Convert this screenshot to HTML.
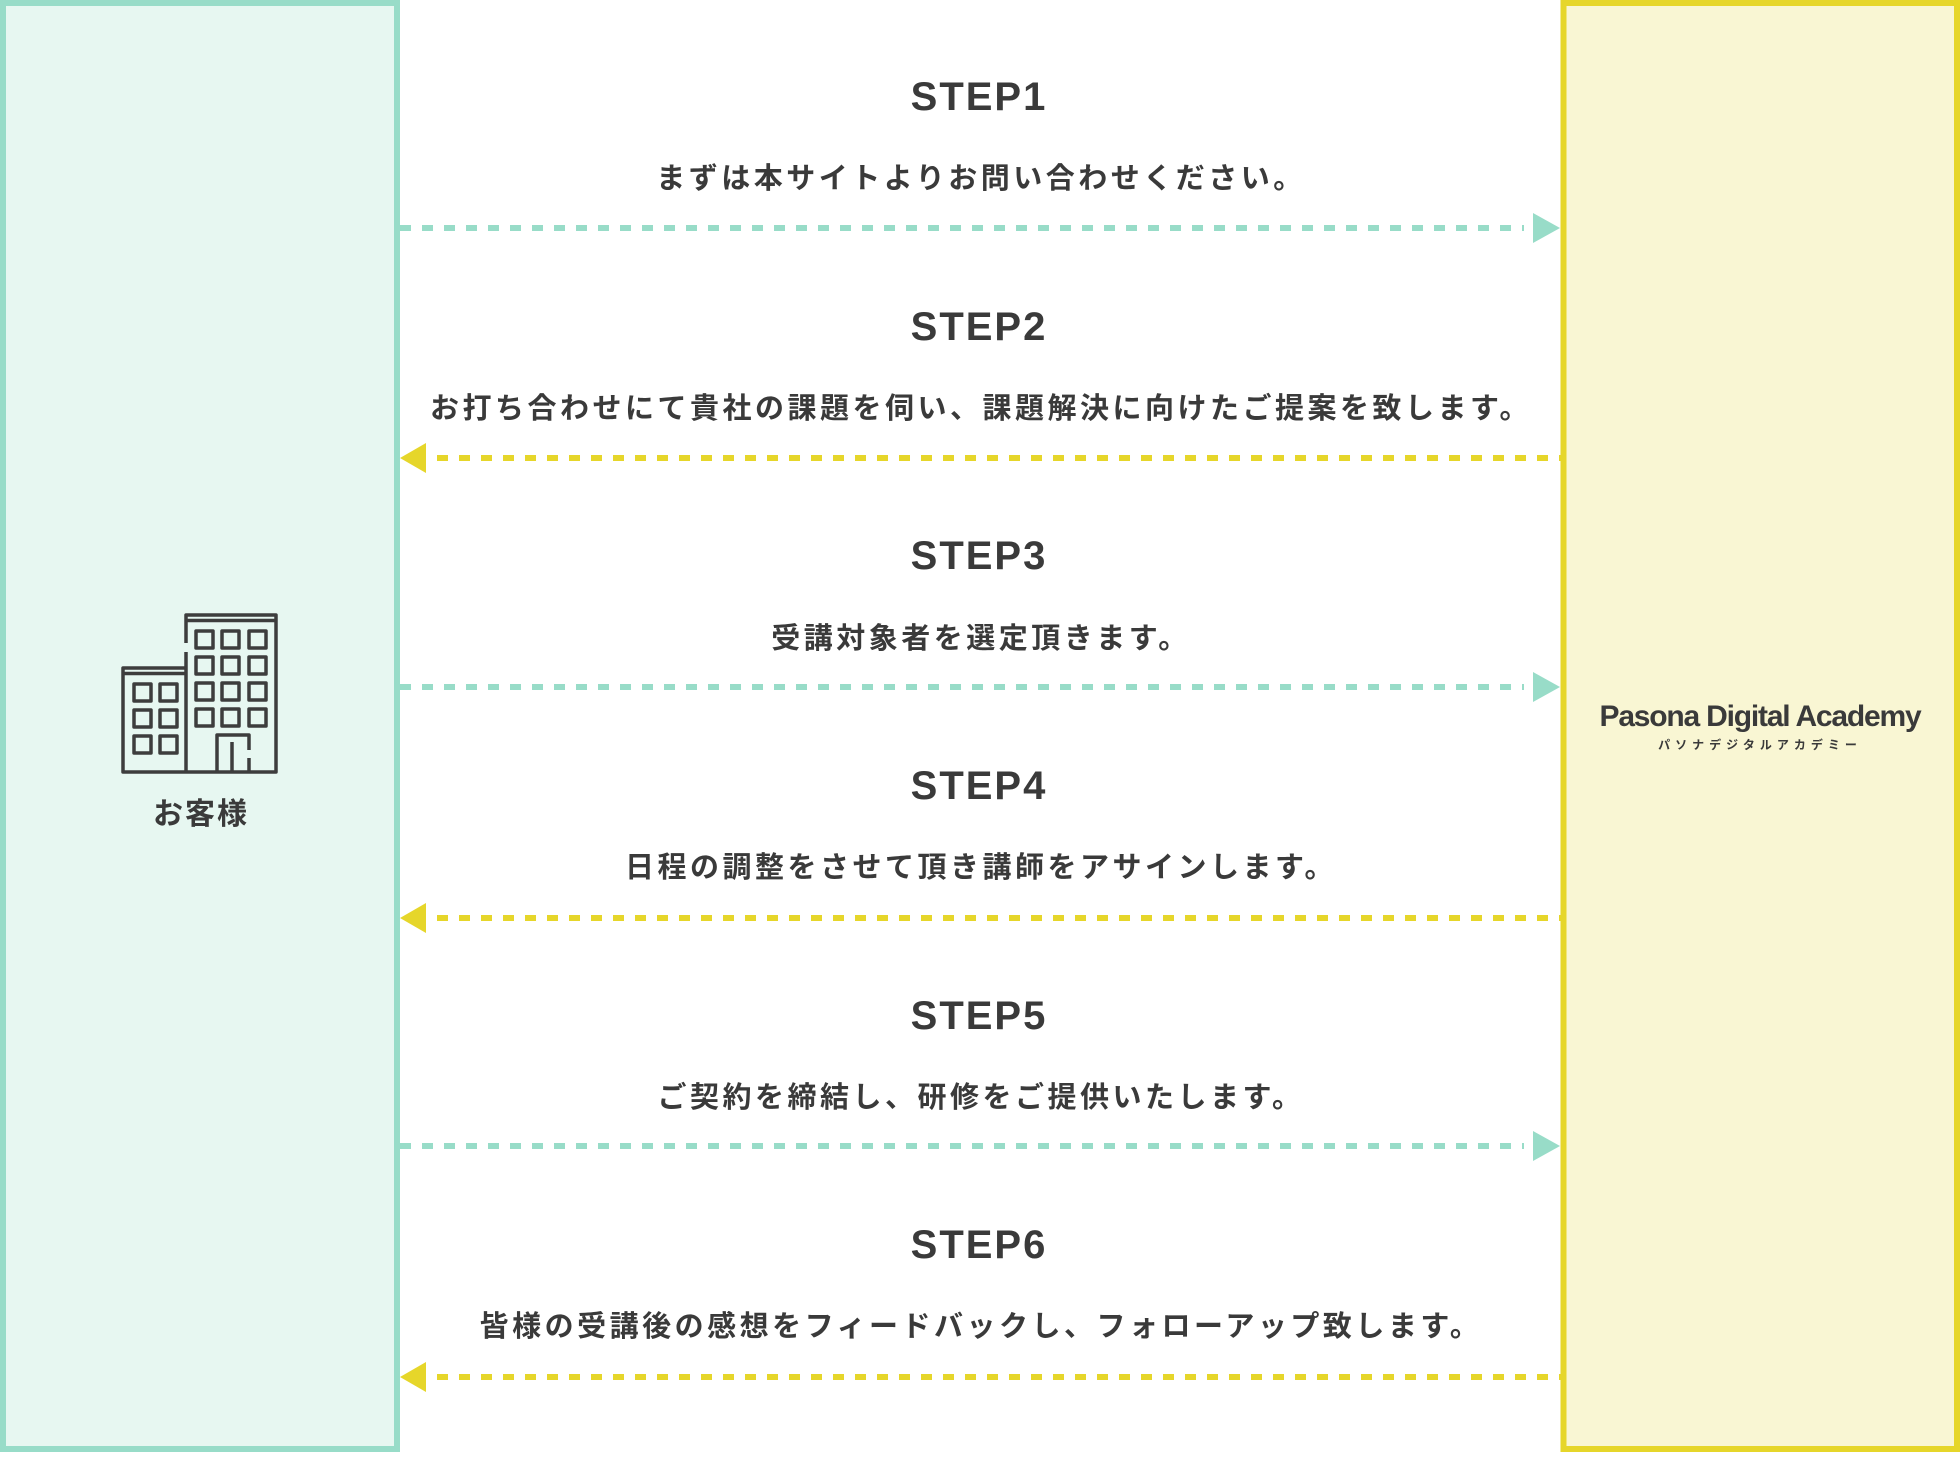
<!DOCTYPE html>
<html><head><meta charset="utf-8"><style>
html,body{margin:0;padding:0;background:#fff;}
body{width:1960px;height:1452px;overflow:hidden;}
svg text{font-family:"Liberation Sans","Noto Sans CJK JP",sans-serif;fill:#3a3a3a;font-weight:bold;}
.j{letter-spacing:3.5px;}
</style></head><body>
<svg width="1960" height="1452" viewBox="0 0 1960 1452" xmlns="http://www.w3.org/2000/svg">
<rect x="3" y="3" width="394" height="1446" fill="#e7f7f1" stroke="#98dcc8" stroke-width="6"/>
<rect x="1563.5" y="3" width="393.5" height="1446" fill="#f9f6d3" stroke="#e6d62a" stroke-width="6"/>
<g fill="none" stroke="#3d3d3d" stroke-width="3.5" stroke-linejoin="round">
<path d="M186 643 V615 H276 V772 H123 V668 H186"/>
<path d="M186 652 V772"/>
<path d="M186 620.5 H276 M123 673.5 H186"/>
<g>
<rect x="196" y="631" width="17" height="17"/><rect x="222" y="631" width="17" height="17"/><rect x="249" y="631" width="17" height="17"/>
<rect x="196" y="657" width="17" height="17"/><rect x="222" y="657" width="17" height="17"/><rect x="249" y="657" width="17" height="17"/>
<rect x="196" y="683" width="17" height="17"/><rect x="222" y="683" width="17" height="17"/><rect x="249" y="683" width="17" height="17"/>
<rect x="196" y="709" width="17" height="17"/><rect x="222" y="709" width="17" height="17"/><rect x="249" y="709" width="17" height="17"/>
<rect x="134" y="684" width="17" height="17"/><rect x="160" y="684" width="17" height="17"/>
<rect x="134" y="710" width="17" height="17"/><rect x="160" y="710" width="17" height="17"/>
<rect x="134" y="736" width="17" height="17"/><rect x="160" y="736" width="17" height="17"/>
</g>
<path d="M217 772 V735 H249 V750 M249 758 V772 M232 742 V772"/>
</g>
<text x="201" y="824" font-size="30" text-anchor="middle" style="letter-spacing:2px">お客様</text>
<text x="1760" y="726" font-size="30" text-anchor="middle" style="letter-spacing:-1.2px">Pasona Digital Academy</text>
<text x="1760" y="749" font-size="12" text-anchor="middle" style="letter-spacing:5px">パソナデジタルアカデミー</text>

<g text-anchor="middle">
<text x="979" y="110" font-size="40" style="letter-spacing:2px">STEP1</text>
<text x="981" y="188" font-size="29" class="j">まずは本サイトよりお問い合わせください。</text>
<text x="979" y="340" font-size="40" style="letter-spacing:2px">STEP2</text>
<text x="981" y="418" font-size="29" class="j">お打ち合わせにて貴社の課題を伺い、課題解決に向けたご提案を致します。</text>
<text x="979" y="569" font-size="40" style="letter-spacing:2px">STEP3</text>
<text x="981" y="648" font-size="29" class="j">受講対象者を選定頂きます。</text>
<text x="979" y="799" font-size="40" style="letter-spacing:2px">STEP4</text>
<text x="981" y="877" font-size="29" class="j">日程の調整をさせて頂き講師をアサインします。</text>
<text x="979" y="1029" font-size="40" style="letter-spacing:2px">STEP5</text>
<text x="981" y="1107" font-size="29" class="j">ご契約を締結し、研修をご提供いたします。</text>
<text x="979" y="1258" font-size="40" style="letter-spacing:2px">STEP6</text>
<text x="981" y="1336" font-size="29" class="j">皆様の受講後の感想をフィードバックし、フォローアップ致します。</text>
</g>

<g stroke="#98dcc8" stroke-width="6" stroke-dasharray="11 11">
<line x1="400" y1="228" x2="1524" y2="228"/>
<line x1="400" y1="687" x2="1524" y2="687"/>
<line x1="400" y1="1146" x2="1524" y2="1146"/>
</g>
<g fill="#98dcc8">
<polygon points="1533,213 1560,228 1533,243"/>
<polygon points="1533,672 1560,687 1533,702"/>
<polygon points="1533,1131 1560,1146 1533,1161"/>
</g>
<g stroke="#e6d62a" stroke-width="6" stroke-dasharray="11 11">
<line x1="437" y1="458" x2="1561" y2="458"/>
<line x1="437" y1="918" x2="1561" y2="918"/>
<line x1="437" y1="1377" x2="1561" y2="1377"/>
</g>
<g fill="#e6d62a">
<polygon points="426,443 400,458 426,473"/>
<polygon points="426,903 400,918 426,933"/>
<polygon points="426,1362 400,1377 426,1392"/>
</g>
</svg>
</body></html>
